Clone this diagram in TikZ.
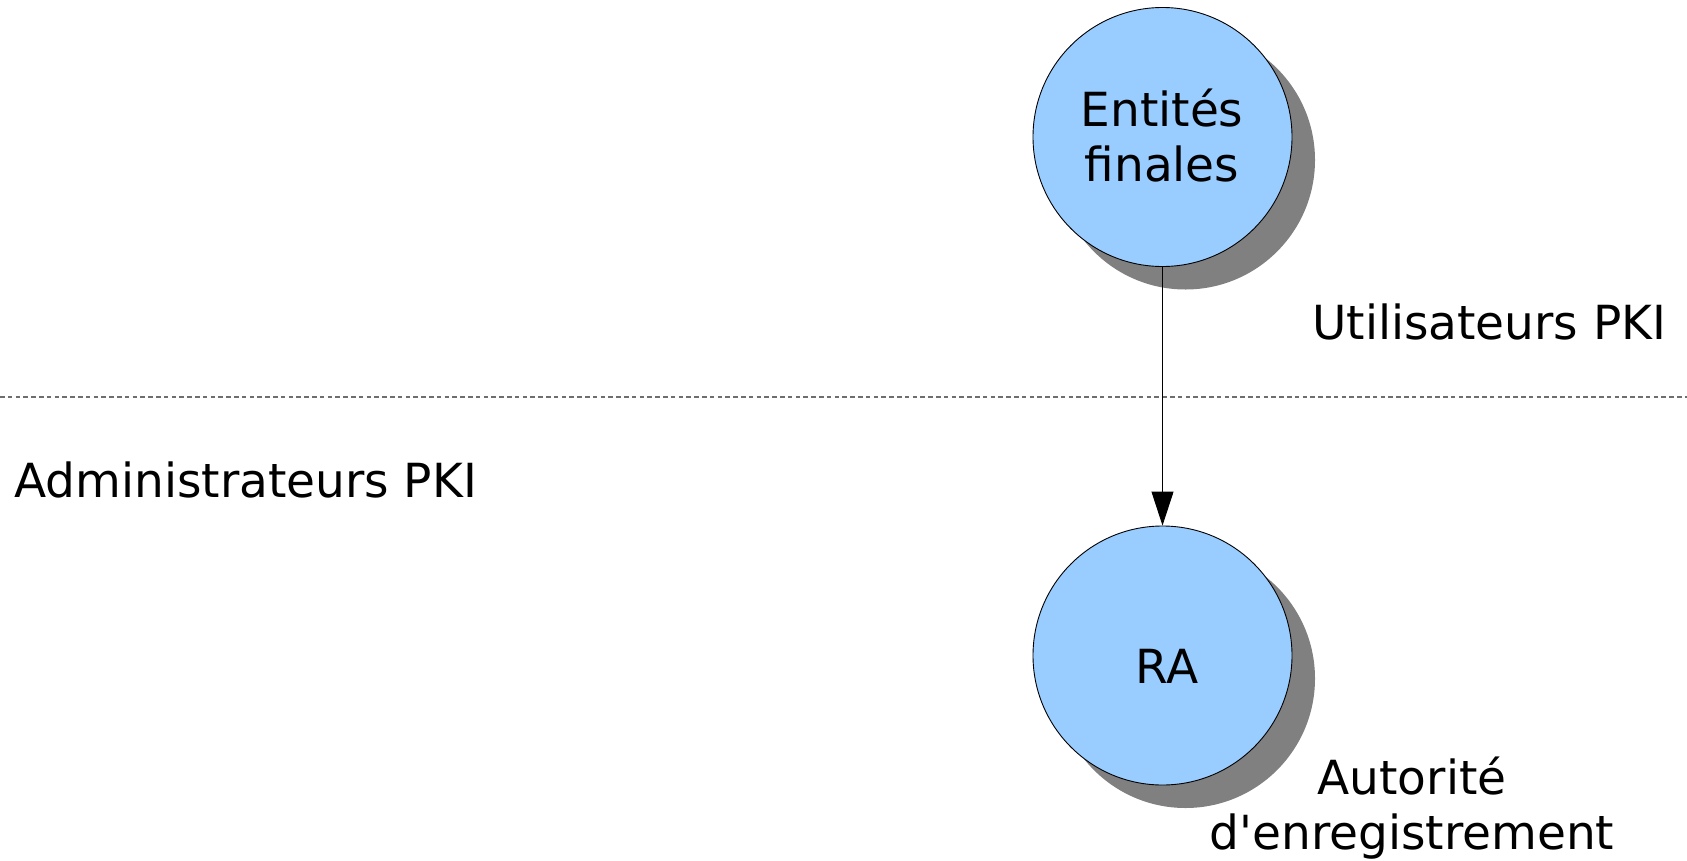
\documentclass[tikz,border=0pt]{standalone}
\usepackage{fontspec}
\setmainfont{DejaVu Sans}
\usetikzlibrary{arrows.meta}
\definecolor{bubblefill}{HTML}{99CCFF}
\definecolor{shadowgray}{HTML}{808080}
\definecolor{dashgray}{HTML}{6E6E6E}
\tikzset{
  bubble/.style={circle, draw=black, line width=0.9pt, fill=bubblefill,
    minimum size=259pt, inner sep=0pt},
  bubbleshadow/.style={circle, fill=shadowgray, minimum size=259pt, inner sep=0pt},
  txt/.style={inner sep=0pt, font=\fontsize{47}{55}\selectfont, align=center},
  separator/.style={dashgray, line width=1.4pt, dash pattern=on 4.6pt off 3.2pt},
  flow/.style={-{Triangle[length=34pt, width=22pt]}, line width=0.9pt}
}
\begin{document}
\begin{tikzpicture}[x=1pt, y=-1pt]
  \useasboundingbox (0,0) rectangle (1687,860);

  % boundary between users and administrators
  \coordinate (sepL) at (0,397);
  \coordinate (sepR) at (1687,397);
  \draw[separator] (sepL) -- (sepR);

  % end entities
  \node[bubbleshadow] (eeshadow) at (1185.5,160) {};
  \node[bubble] (ee) at (1162.5,137) {};
  \node[txt] (eetext) at (1162,136) {Entités\\finales};

  % registration authority
  \node[bubbleshadow] (rashadow) at (1185.5,678.5) {};
  \node[bubble] (ra) at (1162.5,655.5) {};
  \node[txt, anchor=base] (ratext) at (1167,683) {RA};

  % request flow
  \draw[flow] (ee.south) -- (ra.north);

  % zone and role labels
  \node[txt, anchor=base west] (users) at (1312,339) {Utilisateurs PKI};
  \node[txt, anchor=base west] (admins) at (14,497) {Administrateurs PKI};
  \node[txt] (ralabel) at (1412,808) {Autorité\\d\textquotesingle enregistrement};
\end{tikzpicture}
\end{document}
